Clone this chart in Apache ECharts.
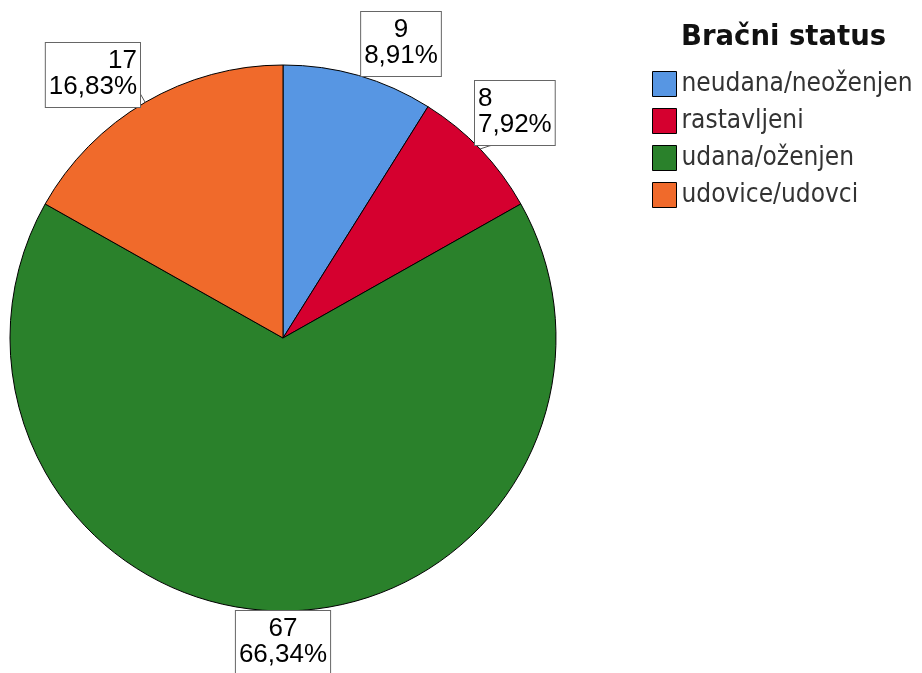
<!DOCTYPE html>
<html>
<head>
<meta charset="utf-8">
<style>
  html, body { margin: 0; padding: 0; background: #fff; }
  #chart { width: 922px; height: 673px; }
</style>
<script src="https://cdn.jsdelivr.net/npm/echarts@6/dist/echarts.min.js"></script>
</head>
<body>
<div id="chart"></div>
<script>
// Marital status counts
const categories = ['neudana/neoženjen', 'rastavljeni', 'udana/oženjen', 'udovice/udovci'];
const counts = [9, 8, 67, 17];
const sliceColors = ['#5796E3', '#D5002F', '#2A812B', '#F06A2B'];
const legendTitle = 'Bračni status';

// Label box placement for each slice: anchor point and alignment
const labelAnchors = [
  { x: 401, y: 12, align: 'center' },
  { x: 475, y: 81, align: 'left' },
  { x: 283, y: 611, align: 'center' },
  { x: 140, y: 43, align: 'right' }
];
// Short leader lines (only where the box does not touch the pie)
const leaderLines = [
  null,
  [[480, 149], [489, 146], [497, 144]],
  null,
  [[145, 102], [141, 95], [138, 90]]
];

const labelFont = '"Liberation Sans", Arial, sans-serif';
const titleFont = '"DejaVu Sans", sans-serif';
const legendFont = '"DejaVu Sans Condensed", "DejaVu Sans", sans-serif';

const chart = echarts.init(document.getElementById('chart'), null, { renderer: 'canvas' });

const seriesData = categories.map((name, i) => ({
  name: name,
  value: counts[i],
  itemStyle: { color: sliceColors[i] },
  labelLine: { show: leaderLines[i] !== null }
}));

chart.setOption({
  animation: false,
  title: {
    text: legendTitle,
    left: 676,
    top: 19,
    textStyle: { fontFamily: titleFont, fontSize: 27.5, fontWeight: 'bold', color: '#111' }
  },
  legend: {
    orient: 'vertical',
    left: 652,
    top: 71,
    padding: 0,
    itemWidth: 24,
    itemHeight: 25,
    itemGap: 11,
    icon: 'rect',
    selectedMode: false,
    itemStyle: { borderColor: '#000', borderWidth: 1 },
    textStyle: { fontFamily: legendFont, fontSize: 26, color: '#333' },
    data: categories
  },
  series: [{
    type: 'pie',
    center: [283, 338],
    radius: 273,
    startAngle: 90,
    clockwise: true,
    avoidLabelOverlap: false,
    silent: true,
    itemStyle: { borderColor: '#000', borderWidth: 1 },
    label: {
      show: true,
      position: 'outside',
      formatter: p => p.value + '\n' + p.percent.toFixed(2).replace('.', ',') + '%',
      fontFamily: labelFont,
      fontSize: 26,
      lineHeight: 26,
      color: '#000',
      backgroundColor: '#fff',
      borderColor: '#666',
      borderWidth: 1,
      padding: [5, 3, 7, 3]
    },
    labelLine: { show: true, lineStyle: { color: '#555', width: 1 } },
    labelLayout: params => {
      const a = labelAnchors[params.dataIndex];
      const out = { x: a.x, y: a.y, align: a.align, verticalAlign: 'top' };
      const pts = leaderLines[params.dataIndex];
      if (pts) out.labelLinePoints = pts;
      return out;
    },
    data: seriesData
  }]
});
</script>
</body>
</html>
